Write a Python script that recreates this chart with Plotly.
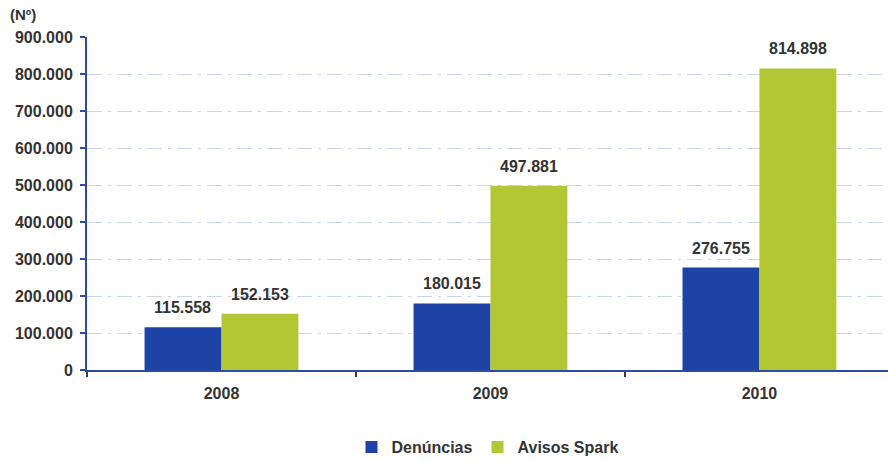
import plotly.graph_objects as go

# Data
years = ["2008", "2009", "2010"]
denuncias = [115558, 180015, 276755]
avisos_spark = [152153, 497881, 814898]
y_ticks = [0, 100000, 200000, 300000, 400000, 500000, 600000, 700000, 800000, 900000]

BLUE = "#1e43a6"
GREEN = "#b3c735"
AXIS = "#2b4ca3"
TEXT = "#333333"
FONT = "Liberation Sans, Arial, sans-serif"

fig = go.Figure()
fig.add_trace(go.Bar(name="Denúncias", x=years, y=denuncias, marker_color=BLUE,
                     marker_line_width=0))
fig.add_trace(go.Bar(name="Avisos Spark", x=years, y=avisos_spark, marker_color=GREEN,
                     marker_line_width=0))


def fmt(v):
    return f"{v:,}".replace(",", ".")


# Value labels above each bar (x given as category index)
annotations = []
for series, shift in ((denuncias, -38.5), (avisos_spark, 38.5)):
    for i, v in enumerate(series):
        annotations.append(dict(
            x=i, y=v, xref="x", yref="y", xshift=shift, yshift=9,
            yanchor="bottom", showarrow=False,
            text="<b>" + fmt(v) + "</b>",
            font=dict(family=FONT, size=16, color=TEXT),
        ))

fig.update_layout(
    width=888, height=461,
    margin=dict(l=87, r=0, t=37, b=91),
    paper_bgcolor="white", plot_bgcolor="white",
    separators=",.",
    barmode="group", bargap=0.428, bargroupgap=0,
    font=dict(family=FONT, size=16, color=TEXT),
    title=dict(text="<b>(Nº)</b>", xref="container", yref="container",
               x=10 / 888, xanchor="left", y=1 - 15 / 461, yanchor="middle",
               font=dict(family=FONT, size=15, color=TEXT)),
    legend=dict(orientation="h", x=0.5, xanchor="center", y=14 / 461,
                yref="container", yanchor="middle",
                font=dict(family=FONT, size=16, color=TEXT, weight="bold"),
                itemwidth=30, traceorder="normal"),
    annotations=annotations,
    xaxis=dict(
        type="category",
        range=[-0.5, 2.478], showgrid=False,
        showline=True, linecolor=AXIS, linewidth=2,
        ticks="outside", tickson="boundaries", ticklen=5, tickcolor="#333a55",
        tickwidth=2,
        tickfont=dict(family=FONT, size=16, color=TEXT, weight="bold"),
        ticklabelstandoff=8,
    ),
    yaxis=dict(
        range=[0, 900000], tickvals=y_ticks, tickformat=",.0f",
        showline=True, linecolor=AXIS, linewidth=2,
        ticks="outside", ticklen=5, tickcolor=AXIS, tickwidth=2,
        showgrid=True, gridcolor="#c9d5ee", griddash="longdashdot", gridwidth=1,
        zeroline=False,
        tickfont=dict(family=FONT, size=16, color=TEXT, weight="bold"),
        ticklabelstandoff=4,
    ),
)

fig.write_html("out.html")
